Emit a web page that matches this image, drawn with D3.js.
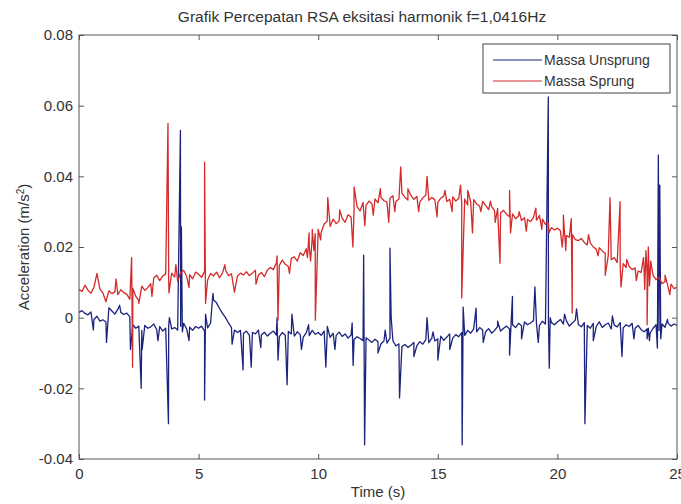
<!DOCTYPE html>
<html>
<head>
<meta charset="utf-8">
<script src="https://cdn.jsdelivr.net/npm/d3@7"></script>
<style>
  body { margin: 0; background: #fff; }
  svg { display: block; font-family: "Liberation Sans", Arial, sans-serif; }
  .axis text { fill: #333; font-size: 15px; }
  .axis path { display: none; }
  .axis line { stroke: #555; }
</style>
</head>
<body>
<svg id="chart" width="681" height="504"></svg>
<script>
// sample spacing of the base signal (s)
var dt = 0.125;

// Massa Sprung, one value every dt seconds (m/s^2)
var sprungBase = [
  .0080,.0074,.0092,.0078,.0069,.0086,.0125,.0081,
  .0070,.0045,.0076,.0068,.0073,.0065,.0079,.0071,
  .0066,.0052,.0083,.0060,.0048,.0089,.0077,.0085,
  .0096,.0112,.0120,.0105,.0118,.0124,.0109,.0126,
  .0115,.0102,.0128,.0134,.0117,.0122,.0110,.0129,
  .0123,.0114,.0131,.0106,.0125,.0118,.0129,.0113,
  .0127,.0135,.0119,.0124,.0072,.0118,.0126,.0121,
  .0130,.0119,.0126,.0134,.0120,.0128,.0116,.0135,
  .0142,.0136,.0155,.0148,.0163,.0151,.0145,.0168,
  .0172,.0160,.0184,.0176,.0195,.0203,.0226,.0238,
  .0250,.0242,.0265,.0273,.0258,.0279,.0266,.0274,
  .0282,.0270,.0291,.0285,.0308,.0314,.0302,.0326,
  .0318,.0330,.0322,.0336,.0325,.0340,.0331,.0327,
  .0338,.0345,.0329,.0336,.0352,.0341,.0333,.0346,
  .0335,.0343,.0328,.0339,.0347,.0332,.0340,.0334,
  .0326,.0338,.0344,.0329,.0335,.0342,.0330,.0337,
  .0325,.0336,.0319,.0328,.0334,.0322,.0315,.0329,
  .0318,.0306,.0314,.0302,.0309,.0296,.0304,.0292,
  .0286,.0294,.0280,.0288,.0275,.0283,.0278,.0272,
  .0284,.0276,.0289,.0279,.0264,.0268,.0255,.0248,
  .0253,.0246,.0240,.0232,.0228,.0235,.0221,.0218,
  .0224,.0213,.0206,.0212,.0200,.0194,.0198,.0189,
  .0182,.0175,.0164,.0170,.0156,.0148,.0153,.0142,
  .0145,.0136,.0141,.0132,.0128,.0135,.0122,.0116,
  .0120,.0108,.0114,.0096,.0102,.0088,.0095,.0082,
  .0086
];

// Massa Unsprung, one value every dt seconds (m/s^2)
var unsprungBase = [
  .0015,.0020,.0012,.0008,.0016,-.0005,.0004,-.0010,
  -.0006,-.0012,.0028,.0019,.0010,.0024,.0015,.0009,
  .0013,.0002,-.0020,-.0030,-.0024,-.0036,-.0022,-.0030,
  -.0026,-.0018,-.0034,-.0025,-.0038,-.0030,-.0022,-.0032,
  -.0028,-.0035,-.0024,-.0016,-.0032,-.0027,-.0036,-.0025,
  -.0030,-.0024,-.0038,-.0029,-.0015,.0050,.0042,.0026,
  .0012,.0000,-.0015,-.0028,-.0035,-.0042,-.0036,-.0045,
  -.0038,-.0050,-.0042,-.0046,-.0035,-.0049,-.0041,-.0052,
  -.0044,-.0038,-.0049,-.0054,-.0042,-.0050,-.0039,-.0046,
  -.0052,-.0040,-.0048,-.0055,-.0043,-.0051,-.0036,-.0047,
  -.0042,-.0050,-.0038,-.0045,-.0056,-.0044,-.0050,-.0041,
  -.0053,-.0046,-.0058,-.0049,-.0062,-.0054,-.0059,-.0065,
  -.0057,-.0063,-.0070,-.0061,-.0068,-.0074,-.0066,-.0072,
  -.0058,-.0066,-.0080,-.0074,-.0082,-.0076,-.0084,-.0078,
  -.0070,-.0079,-.0068,-.0075,-.0062,-.0071,-.0058,-.0066,
  -.0060,-.0052,-.0064,-.0055,-.0046,-.0058,-.0048,-.0054,
  -.0042,-.0050,-.0036,-.0044,-.0032,-.0040,-.0028,-.0035,
  -.0040,-.0031,-.0044,-.0036,-.0025,-.0038,-.0030,-.0024,
  -.0032,-.0020,-.0028,-.0016,-.0023,-.0012,-.0020,-.0015,
  -.0008,-.0016,-.0022,-.0010,-.0018,-.0006,-.0014,-.0020,
  -.0012,-.0005,-.0018,-.0009,-.0024,-.0015,-.0007,-.0019,
  -.0026,-.0014,-.0022,-.0030,-.0016,-.0025,-.0012,-.0028,
  -.0020,-.0015,-.0032,-.0021,-.0026,-.0014,-.0029,-.0020,
  -.0025,-.0016,-.0030,-.0022,-.0034,-.0040,-.0032,-.0044,
  -.0030,-.0020,-.0036,-.0018,-.0027,-.0015,-.0024,-.0018,
  -.0022
];

// short spikes between the samples [time, value]
var sprungSpikes = [
  [1.55,.0110],
  [2.20,.0170],[2.24,-.0140],[2.50,.0040],
  [3.05,.0060],
  [3.72,.0550],[3.76,.0070],
  [4.05,.0150],[4.60,.0085],
  [5.25,.0440],[5.29,.0040],
  [6.10,.0150],[7.40,.0095],
  [8.28,.0175],[8.32,-.0007],[8.80,.0125],
  [9.55,.0170],[9.62,.0240],[9.68,.0160],[9.75,.0250],[9.82,.0190],[9.88,-.0007],
  [10.10,.0220],[10.40,.0340],[10.90,.0305],
  [11.45,.0200],[11.50,.0370],[11.95,.0260],
  [12.30,.0290],[12.60,.0365],[12.95,.0270],
  [13.20,.0300],[13.45,.0427],[13.75,.0365],
  [14.20,.0300],[14.55,.0400],[14.97,.0285],
  [15.30,.0360],[15.60,.0300],
  [15.95,.0375],[16.00,.0056],
  [16.25,.0360],[16.45,.0240],[16.80,.0300],
  [17.20,.0330],[17.40,.0270],[17.60,.0154],
  [18.00,.0360],[18.04,.0240],[18.40,.0300],[18.70,.0245],
  [19.10,.0310],[19.35,.0250],[19.65,.0240],
  [20.20,.0200],[20.25,.0290],[20.35,.0190],
  [20.58,.0280],[20.62,.0013],
  [21.30,.0235],[21.70,.0175],
  [22.00,.0120],[22.20,.0340],
  [22.62,.0328],[22.66,.0087],[22.90,.0165],
  [23.30,.0105],
  [23.60,.0170],[23.65,.0080],[23.70,.0190],[23.75,-.0020],[23.80,.0200],[23.85,.0090],[23.90,.0160],
  [24.50,.0120],[24.70,.0065]
];

var unsprungSpikes = [
  [0.60,-.0035],[1.15,-.0070],[1.70,.0035],
  [2.15,-.0090],
  [2.60,-.0200],[2.64,-.0090],
  [3.30,-.0065],
  [3.74,-.0300],[3.78,.0000],
  [4.24,.0530],[4.28,.0257],[4.32,-.0040],
  [4.60,-.0065],
  [5.25,-.0233],[5.29,.0010],
  [5.60,.0069],
  [6.40,-.0075],
  [6.86,-.0148],
  [7.20,-.0140],[7.60,-.0085],
  [8.28,.0000],[8.32,-.0120],
  [8.70,-.0190],[8.90,.0010],
  [9.30,-.0090],[9.60,-.0020],
  [10.32,-.0140],[10.38,-.0025],[10.70,-.0090],
  [11.42,-.0015],[11.46,-.0135],
  [11.90,.0177],[11.94,-.0360],
  [12.50,-.0100],[12.80,-.0035],
  [13.00,.0197],[13.05,.0000],
  [13.40,-.0227],[14.00,-.0110],
  [14.55,.0000],[14.80,-.0040],
  [15.00,-.0120],[15.50,-.0090],
  [16.02,-.0360],[16.06,.0030],
  [16.60,.0027],[16.90,-.0070],[17.50,-.0010],
  [18.00,-.0106],[18.12,.0060],[18.50,-.0060],
  [19.06,.0087],[19.20,-.0070],
  [19.62,.0625],[19.66,-.0143],[19.70,.0000],
  [20.30,.0010],[20.80,.0025],
  [21.15,-.0300],[21.50,-.0065],
  [22.30,.0005],[22.70,-.0110],
  [23.20,-.0060],
  [23.75,-.0060],[23.80,-.0030],[23.85,-.0065],
  [24.18,-.0086],[24.22,.0460],[24.25,.0100],[24.28,.0375],[24.32,-.0060],
  [24.60,-.0005]
];

var xTicks = [0, 5, 10, 15, 20, 25];
var yTicks = [-0.04, -0.02, 0, 0.02, 0.04, 0.06, 0.08];
var seriesNames = ["Massa Unsprung", "Massa Sprung"];
var seriesColours = ["#1c237e", "#d42a2a"];

function buildSeries(base, spikes) {
  var pts = base.map(function(v, i) { return [i * dt, v]; });
  return pts.concat(spikes).sort(function(a, b) { return a[0] - b[0]; });
}

var svg = d3.select("#chart"),
    margin = {top: 35, right: 4, bottom: 45, left: 79},
    width = +svg.attr("width") - margin.left - margin.right,
    height = +svg.attr("height") - margin.top - margin.bottom;

var chart = svg.append("g").attr("transform", "translate(" + margin.left + "," + margin.top + ")");

var x = d3.scaleLinear().domain([0, 25]).range([0, width]);
var y = d3.scaleLinear().domain([-0.04, 0.08]).range([height, 0]);

var line = d3.line()
    .x(function(d) { return x(d[0]); })
    .y(function(d) { return y(d[1]); });

var data = [buildSeries(unsprungBase, unsprungSpikes), buildSeries(sprungBase, sprungSpikes)];

chart.append("defs").append("clipPath").attr("id", "clip")
    .append("rect").attr("width", width).attr("height", height);

chart.append("g").attr("clip-path", "url(#clip)")
  .selectAll("path")
  .data(data)
  .enter().append("path")
    .attr("d", line)
    .attr("fill", "none")
    .attr("stroke", function(d, i) { return seriesColours[i]; })
    .attr("stroke-width", 1.3)
    .attr("stroke-linejoin", "round");

var fmt = function(d) { return String(d); };

// axes with inward ticks, MATLAB style
chart.append("g")
    .attr("class", "axis")
    .attr("transform", "translate(0," + height + ")")
    .call(d3.axisBottom(x).tickValues(xTicks).tickSizeInner(-5).tickSizeOuter(0).tickPadding(9).tickFormat(fmt));

chart.append("g")
    .attr("class", "axis")
    .call(d3.axisTop(x).tickValues(xTicks).tickSizeInner(-5).tickSizeOuter(0).tickFormat(""));

chart.append("g")
    .attr("class", "axis")
    .call(d3.axisLeft(y).tickValues(yTicks).tickSizeInner(-5).tickSizeOuter(0).tickPadding(6).tickFormat(fmt));

chart.append("g")
    .attr("class", "axis")
    .attr("transform", "translate(" + width + ",0)")
    .call(d3.axisRight(y).tickValues(yTicks).tickSizeInner(-5).tickSizeOuter(0).tickFormat(""));

chart.append("rect")
    .attr("width", width)
    .attr("height", height)
    .attr("fill", "none")
    .attr("stroke", "#555")
    .attr("stroke-width", 1);

// legend
var legend = chart.append("g").attr("transform", "translate(" + (width - 194) + ",9)");

legend.append("rect")
    .attr("width", 187)
    .attr("height", 49)
    .attr("fill", "#fff")
    .attr("stroke", "#444");

var item = legend.selectAll(".item")
    .data(seriesNames)
    .enter().append("g")
    .attr("class", "item")
    .attr("transform", function(d, i) { return "translate(0," + (16 + i * 21) + ")"; });

item.append("line")
    .attr("x1", 10).attr("x2", 59)
    .attr("stroke", function(d, i) { return seriesColours[i]; })
    .attr("stroke-width", 1);

item.append("text")
    .attr("x", 61)
    .attr("dy", "0.35em")
    .attr("fill", "#333")
    .style("font-size", "14px")
    .text(function(d) { return d; });

// title and labels
svg.append("text")
    .attr("x", 362)
    .attr("y", 22)
    .attr("text-anchor", "middle")
    .attr("fill", "#333")
    .style("font-size", "15.5px")
    .text("Grafik Percepatan RSA eksitasi harmonik f=1,0416Hz");

svg.append("text")
    .attr("x", margin.left + width / 2)
    .attr("y", 497)
    .attr("text-anchor", "middle")
    .attr("fill", "#333")
    .style("font-size", "15px")
    .text("Time (s)");

var ylab = svg.append("text")
    .attr("transform", "translate(29," + (margin.top + height / 2) + ") rotate(-90)")
    .attr("text-anchor", "middle")
    .attr("fill", "#333")
    .style("font-size", "15px");
ylab.append("tspan").text("Acceleration (m/s");
ylab.append("tspan").attr("baseline-shift", "super").style("font-size", "10px").text("2");
ylab.append("tspan").text(")");
</script>
</body>
</html>
